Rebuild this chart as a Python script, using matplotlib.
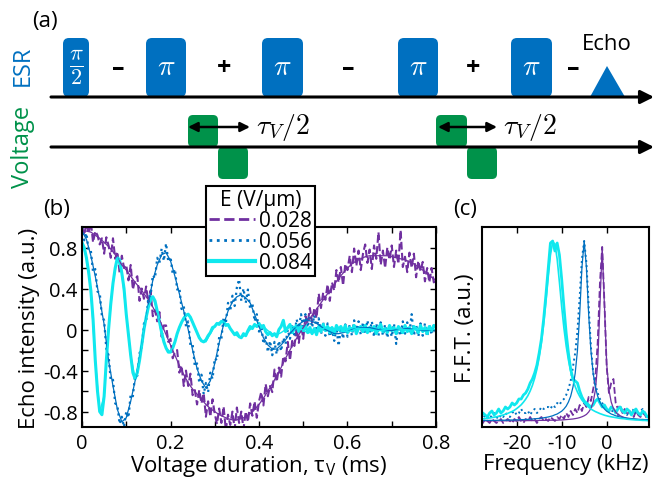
import numpy as np
import matplotlib
matplotlib.use('Agg')
import matplotlib.pyplot as plt
from matplotlib.patches import FancyBboxPatch, Polygon
from matplotlib.lines import Line2D

plt.rcParams['font.family'] = ['Open Sans', 'DejaVu Sans']
plt.rcParams['mathtext.fontset'] = 'cm'

# ---------------- data: panel (b) ----------------
t_data = np.linspace(0, 0.8, 161)
t_fit = np.linspace(0, 0.8, 81)

purple_data = [
    1.00,0.92,1.04,0.94,1.05,0.85,0.96,0.92,0.83,0.89,
    0.74,0.90,0.82,0.70,0.89,0.69,0.76,0.55,0.72,0.60,
    0.63,0.48,0.63,0.39,0.49,0.52,0.28,0.40,0.30,0.42,
    0.26,0.38,0.13,0.19,0.08,0.17,-0.07,0.04,0.04,-0.12,
    -0.09,-0.28,-0.22,-0.20,-0.42,-0.35,-0.55,-0.40,-0.55,-0.43,
    -0.64,-0.59,-0.73,-0.59,-0.72,-0.62,-0.85,-0.70,-0.85,-0.68,
    -0.82,-0.92,-0.77,-0.91,-0.75,-0.98,-0.83,-0.93,-0.80,-0.97,
    -0.76,-0.91,-0.80,-0.97,-0.80,-0.90,-0.72,-0.84,-0.70,-0.86,
    -0.70,-0.61,-0.74,-0.53,-0.65,-0.55,-0.61,-0.39,-0.51,-0.37,
    -0.46,-0.26,-0.31,-0.12,-0.30,-0.11,-0.16,0.01,-0.13,0.05,
    -0.09,0.13,0.06,0.21,0.07,0.21,0.11,0.35,0.21,0.36,
    0.29,0.44,0.28,0.46,0.38,0.58,0.46,0.61,0.43,0.64,
    0.58,0.72,0.56,0.79,0.62,0.77,0.58,0.74,0.83,0.65,
    0.78,0.59,0.82,0.69,0.95,0.63,0.77,0.60,0.80,0.68,
    0.82,0.61,0.77,0.64,0.97,0.61,0.71,0.56,0.75,0.60,
    0.74,0.51,0.67,0.57,0.66,0.47,0.60,0.46,0.60,0.46,
    0.50]

blue_data = [
    1.00,0.87,0.94,0.77,0.77,0.56,0.59,0.37,0.36,0.13,
    0.09,-0.19,-0.25,-0.50,-0.49,-0.72,-0.74,-0.92,-0.85,-0.95,
    -0.80,-0.86,-0.63,-0.65,-0.44,-0.45,-0.23,-0.18,0.06,0.08,
    0.32,0.33,0.53,0.50,0.70,0.65,0.79,0.67,0.84,0.66,
    0.71,0.54,0.59,0.39,0.41,0.20,0.23,0.03,0.08,-0.15,
    -0.14,-0.36,-0.33,-0.52,-0.44,-0.63,-0.52,-0.61,-0.42,-0.48,
    -0.28,-0.30,-0.07,-0.09,0.12,0.06,0.26,0.18,0.33,0.23,
    0.41,0.49,0.28,0.40,0.26,0.39,0.20,0.26,0.08,0.15,
    -0.02,0.05,-0.14,-0.07,-0.22,-0.11,-0.25,-0.12,-0.24,-0.11,
    -0.21,-0.08,-0.14,0.00,-0.09,0.05,-0.05,0.10,0.01,0.15,
    0.03,0.15,0.02,0.14,0.02,0.14,0.01,0.11,-0.05,0.07,
    -0.06,0.06,-0.07,0.01,-0.11,0.02,-0.16,0.02,-0.09,0.05,
    -0.07,0.05,-0.06,0.09,-0.03,0.08,-0.05,0.07,-0.04,0.09,
    -0.03,0.08,-0.07,0.06,-0.06,0.07,-0.06,0.05,-0.08,0.03,
    -0.07,0.06,-0.14,0.05,-0.06,0.08,-0.04,0.07,-0.03,0.15,
    -0.06,0.05,-0.07,0.06,-0.06,0.06,-0.07,0.05,-0.05,0.04,
    -0.03]

cyan_data = [
    0.85,0.80,0.70,0.56,0.38,0.10,-0.30,-0.60,-0.80,-0.83,
    -0.65,-0.30,0.00,0.25,0.45,0.60,0.70,0.68,0.55,0.40,
    0.15,-0.05,-0.25,-0.42,-0.48,-0.42,-0.30,-0.15,0.00,0.12,
    0.22,0.30,0.32,0.28,0.18,0.08,-0.03,-0.12,-0.18,-0.22,
    -0.22,-0.18,-0.12,-0.04,0.02,0.07,0.11,0.14,0.15,0.12,
    0.07,0.02,-0.03,-0.08,-0.11,-0.12,-0.10,-0.06,-0.03,0.02,
    0.03,0.06,0.05,0.08,0.07,0.04,0.05,0.01,-0.02,-0.05,
    -0.03,-0.07,-0.08,-0.04,-0.06,-0.01,0.03,0.01,0.05,0.03,
    0.06,0.02,0.04,-0.02,-0.05,-0.03,-0.06,-0.04,-0.07,0.00,
    0.03,0.09,-0.02,0.02,0.05,-0.03,0.01,0.04,-0.02,0.03,
    -0.01,
    0.04,-0.03,0.02,-0.04,0.01,-0.05,0.03,-0.02,0.05,-0.01,
    0.03,-0.03,0.02,-0.04,0.04,0.00,0.03,-0.02,0.04,-0.03,
    0.02,-0.01,0.04,-0.04,0.01,0.03,-0.02,0.04,-0.03,0.02,
    -0.01,0.03,-0.04,0.02,0.05,-0.02,0.01,-0.03,0.04,-0.01,
    0.02,-0.04,0.03,0.00,-0.03,0.04,-0.02,0.02,-0.04,0.03,
    0.01,-0.03,0.04,-0.02,0.02,-0.04,0.03,-0.01,0.04,0.02]

purple_fit = [
    0.97,0.96,0.95,0.92,0.89,0.85,0.81,0.76,0.70,0.63,
    0.58,0.52,0.46,0.41,0.35,0.29,0.22,0.14,0.05,-0.05,
    -0.15,-0.25,-0.35,-0.44,-0.52,-0.58,-0.63,-0.68,-0.73,-0.77,
    -0.80,-0.83,-0.85,-0.87,-0.88,-0.88,-0.87,-0.85,-0.82,-0.78,
    -0.73,-0.67,-0.60,-0.53,-0.45,-0.37,-0.28,-0.20,-0.12,-0.05,
    0.02,0.08,0.14,0.20,0.26,0.32,0.38,0.44,0.50,0.55,
    0.60,0.64,0.67,0.69,0.71,0.72,0.72,0.72,0.72,0.72,
    0.71,0.70,0.69,0.68,0.66,0.64,0.61,0.58,0.55,0.51,
    0.48]

blue_fit = [
    0.96,0.88,0.72,0.52,0.30,0.05,-0.30,-0.55,-0.78,-0.90,
    -0.86,-0.70,-0.50,-0.28,0.00,0.25,0.48,0.63,0.73,0.75,
    0.67,0.52,0.35,0.18,0.00,-0.20,-0.38,-0.50,-0.57,-0.50,
    -0.33,-0.13,0.05,0.18,0.27,0.32,0.34,0.31,0.26,0.15,
    0.03,-0.08,-0.15,-0.19,-0.19,-0.15,-0.10,-0.04,0.01,0.05,
    0.08,0.09,0.08,0.06,0.03,0.00,-0.02,-0.04,-0.04,-0.03,
    -0.02,0.00,0.01,0.02,0.02,0.02,0.01,0.00,-0.01,-0.01,
    -0.01,0.00,0.00,0.01,0.01,0.00,0.00,-0.01,-0.01,0.00,
    0.00]

cyan_fit = [
    0.85,0.70,0.38,-0.30,-0.80,-0.65,0.00,0.45,0.70,0.55,
    0.15,-0.25,-0.48,-0.30,0.00,0.22,0.32,0.18,-0.03,-0.18,
    -0.22,-0.12,0.02,0.11,0.15,0.07,-0.03,-0.11,-0.12,-0.04,
    0.03,0.07,0.08,0.04,-0.02,-0.06,-0.08,-0.05,0.00,0.04,
    0.05,0.03,-0.01,-0.04,-0.05,-0.03,0.00,0.03,0.03,0.02,
    -0.01,-0.03,-0.03,-0.02,0.00,0.02,0.02,0.01,-0.01,-0.02,
    -0.02,-0.01,0.01,0.01,0.01,0.00,-0.01,-0.01,-0.01,0.00,
    0.01,0.01,0.00,0.00,-0.01,0.00,0.00,0.00,0.00,0.00,
    0.00]

field_labels = ['0.028', '0.056', '0.084']

# ---------------- data: panel (c) ----------------
freq = np.linspace(-28, 9.5, 76)

cyan_fft = [
    0.05,0.07,0.06,0.05,0.07,0.08,0.06,0.07,0.09,0.07,
    0.08,0.10,0.09,0.10,0.12,0.11,0.12,0.14,0.14,0.16,
    0.17,0.19,0.22,0.24,0.27,0.31,0.37,0.44,0.54,0.66,
    0.79,0.92,0.93,0.88,0.92,0.86,0.74,0.60,0.47,0.37,
    0.29,0.24,0.23,0.22,0.18,0.15,0.13,0.12,0.11,0.10,
    0.11,0.13,0.14,0.12,0.10,0.11,0.09,0.08,0.10,0.09,
    0.07,0.09,0.10,0.08,0.07,0.09,0.08,0.06,0.08,0.09,
    0.07,0.06,0.08,0.07,0.05,0.05]
cyan_fft_fit = [
    0.040,0.041,0.042,0.044,0.045,0.047,0.049,0.051,0.054,0.057,
    0.060,0.064,0.068,0.073,0.078,0.084,0.092,0.101,0.111,0.124,
    0.139,0.157,0.180,0.208,0.244,0.289,0.347,0.421,0.515,0.626,
    0.748,0.859,0.924,0.916,0.839,0.724,0.602,0.494,0.405,0.335,
    0.279,0.236,0.202,0.175,0.153,0.135,0.121,0.109,0.099,0.090,
    0.083,0.077,0.072,0.067,0.063,0.059,0.056,0.053,0.051,0.049,
    0.047,0.045,0.043,0.042,0.041,0.039,0.038,0.037,0.036,0.035,
    0.035,0.034,0.033,0.033,0.032,0.031]
blue_fft = [
    0.05,0.04,0.06,0.05,0.04,0.06,0.07,0.05,0.04,0.06,
    0.05,0.07,0.06,0.05,0.07,0.08,0.06,0.07,0.09,0.07,
    0.07,0.08,0.06,0.08,0.09,0.07,0.08,0.10,0.09,0.10,
    0.10,0.09,0.11,0.10,0.12,0.11,0.13,0.14,0.16,0.19,
    0.23,0.30,0.37,0.48,0.65,0.84,0.93,0.82,0.60,0.40,
    0.27,0.21,0.17,0.14,0.12,0.10,0.09,0.08,0.07,0.09,
    0.08,0.06,0.07,0.09,0.07,0.06,0.08,0.07,0.09,0.07,
    0.06,0.08,0.09,0.07,0.06,0.05]
blue_fft_fit = [
    0.032,0.032,0.033,0.033,0.033,0.033,0.033,0.033,0.034,0.034,
    0.034,0.034,0.034,0.035,0.035,0.035,0.036,0.036,0.037,0.037,
    0.038,0.038,0.039,0.040,0.041,0.042,0.043,0.044,0.046,0.048,
    0.050,0.053,0.056,0.061,0.065,0.072,0.079,0.090,0.104,0.125,
    0.154,0.199,0.268,0.381,0.561,0.797,0.930,0.797,0.561,0.381,
    0.268,0.199,0.154,0.125,0.104,0.090,0.079,0.072,0.065,0.061,
    0.056,0.053,0.050,0.048,0.046,0.044,0.043,0.042,0.041,0.040,
    0.039,0.038,0.038,0.037,0.037,0.036]
purple_fft = [
    0.03,0.02,0.04,0.03,0.02,0.04,0.03,0.02,0.03,0.04,
    0.02,0.03,0.04,0.03,0.02,0.04,0.03,0.05,0.03,0.02,
    0.04,0.03,0.05,0.03,0.04,0.02,0.04,0.05,0.03,0.04,
    0.03,0.05,0.04,0.03,0.05,0.04,0.06,0.04,0.07,0.05,
    0.08,0.06,0.09,0.07,0.11,0.08,0.12,0.10,0.15,0.13,
    0.19,0.25,0.42,0.72,0.90,0.62,0.30,0.17,0.22,0.24,
    0.12,0.09,0.11,0.07,0.09,0.06,0.08,0.07,0.05,0.08,
    0.06,0.05,0.07,0.06,0.04,0.05]
purple_fft_fit = [
    0.031,0.031,0.031,0.031,0.031,0.031,0.031,0.031,0.031,0.031,
    0.031,0.031,0.031,0.031,0.031,0.031,0.031,0.032,0.032,0.032,
    0.032,0.032,0.032,0.032,0.032,0.032,0.033,0.033,0.033,0.033,
    0.033,0.034,0.034,0.034,0.034,0.035,0.035,0.036,0.037,0.038,
    0.039,0.040,0.042,0.044,0.047,0.051,0.056,0.063,0.075,0.093,
    0.125,0.186,0.316,0.606,0.900,0.606,0.316,0.186,0.125,0.093,
    0.075,0.063,0.056,0.051,0.047,0.044,0.042,0.040,0.039,0.038,
    0.037,0.036,0.035,0.035,0.034,0.034]

# ---------------- schematic (a) ----------------
esr_pulses = [(63, 89), (146, 186), (262, 303), (398, 438), (511, 552)]
esr_pulse_labels = [r'$\frac{\pi}{2}$', r'$\pi$', r'$\pi$', r'$\pi$', r'$\pi$']
phase_x = [118, 224, 348, 473, 573]
phase_signs = ['–', '+', '–', '+', '–']
volt_up = [(188, 218), (436, 467)]
volt_down = [(218, 248), (467, 497)]
tau_arrows = [(188, 250), (438, 497)]

C_PURPLE = '#7030A0'
C_BLUE = '#0070C0'
C_CYAN = '#10E8EE'
C_ESR = '#0070C0'
C_VOLT = '#00924A'

W, H = 655, 485
fig = plt.figure(figsize=(W / 100, H / 100), dpi=100)

axa = fig.add_axes([0, 1 - 190 / H, 1, 190 / H])
axa.set_xlim(0, W)
axa.set_ylim(190, 0)
axa.axis('off')

ESR_Y, VOLT_Y = 98, 148
for (x0, x1), lab in zip(esr_pulses, esr_pulse_labels):
    axa.add_patch(FancyBboxPatch((x0, 39), x1 - x0, ESR_Y - 39,
                                 boxstyle='round,pad=0,rounding_size=6',
                                 fc=C_ESR, ec='none'))
    fs = 23 if 'frac' in lab else 21
    axa.text((x0 + x1) / 2, 68, lab, color='white', fontsize=fs,
             ha='center', va='center')
for x, s in zip(phase_x, phase_signs):
    axa.text(x, 69, s, fontsize=18, ha='center', va='center',
             fontweight='bold')
axa.add_patch(Polygon([(590, ESR_Y), (607, 67), (625, ESR_Y)], closed=True,
                      fc=C_ESR, ec='none'))
axa.text(607, 44, 'Echo', fontsize=16, ha='center', va='center')
for (x0, x1) in volt_up:
    axa.add_patch(FancyBboxPatch((x0, 116), x1 - x0, VOLT_Y - 116,
                                 boxstyle='round,pad=0,rounding_size=5',
                                 fc=C_VOLT, ec='none'))
for (x0, x1) in volt_down:
    axa.add_patch(FancyBboxPatch((x0, VOLT_Y), x1 - x0, 180 - VOLT_Y,
                                 boxstyle='round,pad=0,rounding_size=5',
                                 fc=C_VOLT, ec='none'))
for yy in (ESR_Y, VOLT_Y):
    axa.annotate('', xy=(654, yy), xytext=(51, yy),
                 arrowprops=dict(arrowstyle='-|>', lw=2.2, color='k',
                                 mutation_scale=20, shrinkA=0, shrinkB=0))
for (x0, x1) in tau_arrows:
    axa.annotate('', xy=(x1, 128), xytext=(x0, 128),
                 arrowprops=dict(arrowstyle='<|-|>', lw=1.8, color='k',
                                 mutation_scale=14, shrinkA=0, shrinkB=0))
    axa.text(x1 + 6, 128, r'$\tau_V/2$', fontsize=20, ha='left', va='center')
axa.text(23, 66, 'ESR', rotation=90, color=C_ESR, fontsize=17,
         ha='center', va='center')
axa.text(23, 147, 'Voltage', rotation=90, color=C_VOLT, fontsize=17,
         ha='center', va='center')
axa.text(45, 21, '(a)', fontsize=16, ha='center', va='center')

# ---------------- panel (b) ----------------
axb = fig.add_axes([82 / W, 57 / H, 354 / W, 200 / H])
l1, = axb.plot(t_data, purple_data, color=C_PURPLE, lw=1.5, ls='--')
l2, = axb.plot(t_data, blue_data, color=C_BLUE, lw=1.6, ls=':')
l3, = axb.plot(t_data, cyan_data, color=C_CYAN, lw=2.2, ls='-')
axb.plot(t_fit, purple_fit, color=C_PURPLE, lw=0.9)
axb.plot(t_fit, blue_fit, color=C_BLUE, lw=0.9)
axb.plot(t_fit, cyan_fit, color=C_CYAN, lw=1.0)
axb.set_xlim(0, 0.8)
axb.set_ylim(-0.95, 1.0)
axb.set_xticks(np.round(np.arange(0, 0.81, 0.1), 1))
axb.set_xticklabels(['0', '', '0.2', '', '0.4', '', '0.6', '', '0.8'])
axb.set_yticks(np.round(np.arange(-0.8, 0.81, 0.2), 1))
axb.set_yticklabels(['-0.8', '', '-0.4', '', '0', '', '0.4', '', '0.8'])
axb.tick_params(direction='in', top=True, right=True, length=4, width=1,
                labelsize=14.5)
axb.tick_params(axis='x', pad=4)
axb.tick_params(axis='y', pad=3)
for sp in axb.spines.values():
    sp.set_linewidth(1.5)
axb.set_xlabel(r'Voltage duration, τ$_\mathregular{V}$ (ms)', fontsize=16,
               labelpad=0)
axb.set_ylabel('Echo intensity (a.u.)', fontsize=16, labelpad=2)

h1 = Line2D([], [], color=C_PURPLE, lw=2, ls='--')
h2 = Line2D([], [], color=C_BLUE, lw=2, ls=':')
h3 = Line2D([], [], color=C_CYAN, lw=3, ls='-')
leg = axb.legend([h1, h2, h3], field_labels, title='E (V/µm)',
                 loc='upper left', bbox_to_anchor=(206 / W, 1 - 187 / H),
                 bbox_transform=fig.transFigure, fontsize=15,
                 title_fontsize=15, frameon=True, fancybox=False,
                 handlelength=2.2, handletextpad=0.2, labelspacing=0.0,
                 borderpad=0.15, borderaxespad=0, framealpha=1)
leg.get_frame().set_edgecolor('k')
leg.get_frame().set_linewidth(1.5)
leg.set_zorder(10)

# ---------------- panel (c) ----------------
axc = fig.add_axes([482 / W, 57 / H, 167 / W, 200 / H])
axc.plot(freq, purple_fft, color=C_PURPLE, lw=1.3, ls='--')
axc.plot(freq, blue_fft, color=C_BLUE, lw=1.4, ls=':')
axc.plot(freq, cyan_fft, color=C_CYAN, lw=2.0)
axc.plot(freq, purple_fft_fit, color=C_PURPLE, lw=0.9)
axc.plot(freq, blue_fft_fit, color=C_BLUE, lw=0.9)
axc.plot(freq, cyan_fft_fit, color=C_CYAN, lw=1.2)
axc.set_xlim(-27.7, 9.4)
axc.set_ylim(0, 1.0)
axc.set_xticks([-20, -10, 0])
axc.set_xticklabels(['-20', '-10', '0'])
axc.set_yticks([])
axc.tick_params(direction='in', top=True, length=4, width=1, labelsize=14.5,
                pad=4)
for sp in axc.spines.values():
    sp.set_linewidth(1.5)
axc.set_xlabel('Frequency (kHz)', fontsize=16, labelpad=0)
axc.set_ylabel('F.F.T. (a.u.)', fontsize=16, labelpad=4)

fig.text(57 / W, 1 - 209 / H, '(b)', fontsize=16, ha='center', va='center')
fig.text(465 / W, 1 - 210 / H, '(c)', fontsize=16, ha='center', va='center')

fig.savefig('out.png', dpi=100)
